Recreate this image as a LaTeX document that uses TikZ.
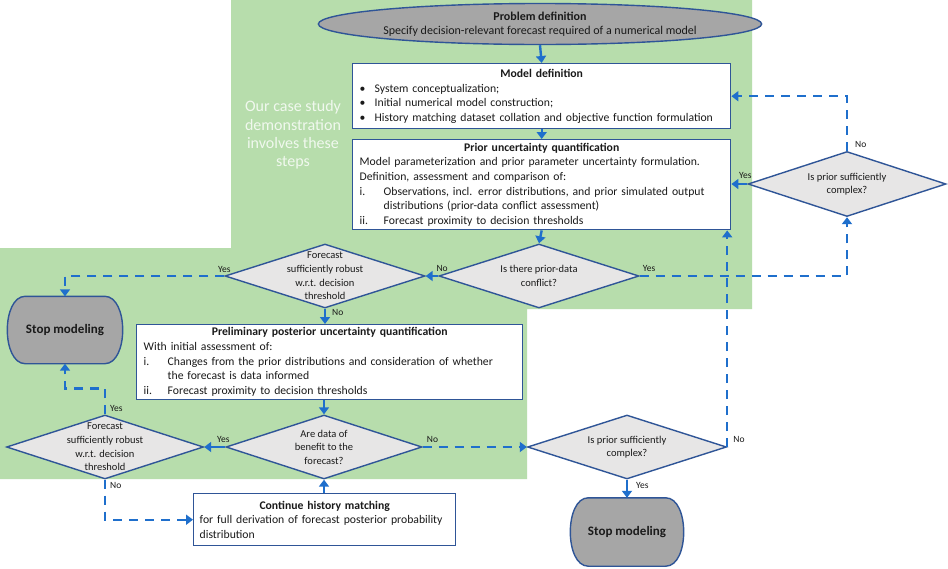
\documentclass[tikz,border=0pt]{standalone}
\usepackage{fontspec}
\setmainfont{Carlito}
\usetikzlibrary{shapes.geometric,arrows.meta}
\definecolor{bgreen}{HTML}{B7DDAC}
\definecolor{bord}{HTML}{2F5597}
\definecolor{arr}{HTML}{1F6FCC}
\definecolor{gfill}{HTML}{A6A6A6}
\definecolor{dfill}{HTML}{E7E6E6}
\definecolor{txt}{HTML}{1A1A1A}
\begin{document}
\begin{tikzpicture}[x=1pt,y=-1pt,
  box/.style={draw=bord,line width=1.4pt,fill=white,align=left,anchor=north west,inner xsep=7pt,inner ysep=3pt,text=txt,font=\fontsize{11.7}{14.6}\selectfont},
  dia/.style={diamond,draw=bord,line width=1.4pt,fill=dfill,inner sep=0pt},
  dtext/.style={align=center,inner sep=0pt,text=txt,font=\fontsize{10.5}{13.6}\selectfont},
  stopframe/.style={rectangle,inner sep=0pt,minimum width=115pt,minimum height=67pt},
  stopline/.style={draw=bord,line width=1.4pt,fill=gfill},
  stoptext/.style={inner sep=0pt,text=txt,font=\fontsize{13}{15}\selectfont\bfseries},
  lbl/.style={font=\fontsize{9.5}{11}\selectfont,inner sep=1pt,text=txt},
  sarr/.style={draw=arr,line width=2.4pt,-{Triangle[width=10pt,length=7pt]}},
  darr/.style={sarr,dash pattern=on 9pt off 7pt},
]
\useasboundingbox (0,0) rectangle (948,568);
\fill[white] (0,0) rectangle (948,568);
\fill[bgreen] (231,0) -- (752,0) -- (752,309) -- (527,309) -- (527,479) -- (0,479) -- (0,248) -- (231,248) -- cycle;

\node[white,opacity=0.8,align=center,font=\fontsize{16}{18.2}\selectfont] (side) at (293,135) {Our case study\\demonstration\\involves these\\steps};

% Problem definition
\node[ellipse,draw=bord,line width=1.4pt,fill=gfill,minimum width=376pt,minimum height=41pt,inner sep=0pt,align=center,text=txt,font=\fontsize{12}{13.5}\selectfont] (pd) at (540,24)
  {\textbf{Problem definition}\\Specify decision-relevant forecast required of a numerical model};

% Model definition
\node[box,text width=364pt,minimum height=65pt] (md) at (352,63) {%
{\centering\bfseries Model definition\par}
\makebox[15pt][l]{\textbullet}System conceptualization;\par
\makebox[15pt][l]{\textbullet}Initial numerical model construction;\par
\makebox[15pt][l]{\textbullet}History matching dataset collation and objective function formulation\par};

% Prior uncertainty quantification
\node[box,text width=364pt,minimum height=90pt] (prior) at (352,139) {%
{\centering\bfseries Prior uncertainty quantification\par}
Model parameterization and prior parameter uncertainty formulation.\par
Definition, assessment and comparison of:\par
\hangindent=24pt\hangafter=1\makebox[24pt][l]{i.}Observations, incl. error distributions, and prior simulated output\newline distributions (prior-data conflict assessment)\par
\hangindent=24pt\hangafter=1\makebox[24pt][l]{ii.}Forecast proximity to decision thresholds\par};

% Preliminary posterior
\node[box,text width=372pt,minimum height=74pt] (prelim) at (136,324) {%
{\centering\bfseries Preliminary posterior uncertainty quantification\par}
With initial assessment of:\par
\hangindent=24pt\hangafter=1\makebox[24pt][l]{i.}Changes from the prior distributions and consideration of whether\newline the forecast is data informed\par
\hangindent=24pt\hangafter=1\makebox[24pt][l]{ii.}Forecast proximity to decision thresholds\par};

% Continue history matching
\node[box,text width=250pt,minimum height=52pt,inner xsep=6pt] (cont) at (193,493) {%
{\centering\bfseries Continue history matching\par}
for full derivation of forecast posterior probability\newline distribution\par};

% Diamonds
\node[dia,minimum width=200pt,minimum height=64pt] (fc1) at (325,276) {};
\node[dtext] (fc1t) at (fc1.center) {Forecast\\sufficiently robust\\w.r.t. decision\\threshold};
\node[dia,minimum width=200pt,minimum height=64pt] (conf) at (539,276) {};
\node[dtext] (conft) at (conf.center) {Is there prior-data\\conflict?};
\node[dia,minimum width=198pt,minimum height=65pt] (cx) at (847,184) {};
\node[dtext] (cxt) at (cx.center) {Is prior sufficiently\\complex?};
\node[dia,minimum width=196pt,minimum height=64pt] (db) at (324,447) {};
\node[dtext] (dbt) at (db.center) {Are data of\\benefit to the\\forecast?};
\node[dia,minimum width=197pt,minimum height=64pt] (fc2) at (105,447) {};
\node[dtext] (fc2t) at (fc2.center) {Forecast\\sufficiently robust\\w.r.t. decision\\threshold};
\node[dia,minimum width=199pt,minimum height=64pt] (cx2) at (627,447) {};
\node[dtext] (cx2t) at (cx2.center) {Is prior sufficiently\\complex?};

% Stop nodes (frame, outline, text)
\node[stopframe] (stop1) at (65,330) {};
\filldraw[stopline] ([xshift=18pt]stop1.north west) -- ([xshift=-18pt]stop1.north east)
  .. controls ([xshift=6pt]stop1.north east) and ([xshift=6pt]stop1.south east) .. ([xshift=-18pt]stop1.south east)
  -- ([xshift=18pt]stop1.south west)
  .. controls ([xshift=-6pt]stop1.south west) and ([xshift=-6pt]stop1.north west) .. cycle;
\node[stoptext] (stop1t) at (stop1.center) {Stop modeling};
\node[stopframe,minimum width=113pt,minimum height=68pt] (stop2) at (627,532) {};
\filldraw[stopline] ([xshift=18pt]stop2.north west) -- ([xshift=-18pt]stop2.north east)
  .. controls ([xshift=6pt]stop2.north east) and ([xshift=6pt]stop2.south east) .. ([xshift=-18pt]stop2.south east)
  -- ([xshift=18pt]stop2.south west)
  .. controls ([xshift=-6pt]stop2.south west) and ([xshift=-6pt]stop2.north west) .. cycle;
\node[stoptext] (stop2t) at (stop2.center) {Stop modeling};

% Solid connectors
\draw[sarr] (pd.south) -- (md.north);
\draw[sarr] (md.south) -- (prior.north);
\draw[sarr] (prior.south) -- (conf.north);
\draw[sarr] (conf.west) -- (fc1.east);
\draw[sarr] (cx.west) -- (cx.west -| prior.east);
\draw[sarr] (fc1.south) -- (fc1.south |- prelim.north);
\draw[sarr] (db.north |- prelim.south) -- (db.north);
\draw[sarr] (db.west) -- (fc2.east);
\draw[sarr] (db.south |- cont.north) -- (db.south);
\draw[sarr] (cx2.south) -- (stop2.north);

% Dashed connectors
\draw[darr] (conf.east) -| (cx.south);
\draw[darr] (cx.north) |- (md.east);
\draw[darr] (fc1.west) -| (stop1.north);
\draw[darr] (db.east) -- (cx2.west);
\draw[darr] (cx2.east) -- (cx2.east |- prior.south);
\draw[darr] (fc2.north) -- ++(0,-26) coordinate (c1) -| (stop1.south);
\draw[darr] (fc2.south) |- (cont.west);

% Labels
\node[lbl,anchor=south] (l1) at ([yshift=2pt]fc1.west) {Yes};
\node[lbl,anchor=south west] (l2) at ([xshift=-3pt,yshift=3pt]conf.west) {No};
\node[lbl,anchor=south west] (l3) at ([xshift=2pt,yshift=3pt]conf.east) {Yes};
\node[lbl,anchor=south] (l4) at ([xshift=-2pt,yshift=4pt]cx.west) {Yes};
\node[lbl,anchor=south west] (l5) at ([xshift=7pt,yshift=2pt]cx.north) {No};
\node[lbl,anchor=north west] (l6) at ([xshift=6pt,yshift=1pt]fc1.south) {No};
\node[lbl,anchor=south] (l7) at ([xshift=-2pt,yshift=3pt]db.west) {Yes};
\node[lbl,anchor=south west] (l8) at ([xshift=3pt,yshift=3pt]db.east) {No};
\node[lbl,anchor=south west] (l9) at ([xshift=4pt,yshift=2pt]fc2.north) {Yes};
\node[lbl,anchor=north west] (l10) at ([xshift=4pt,yshift=-1pt]fc2.south) {No};
\node[lbl,anchor=south west] (l11) at ([xshift=5pt,yshift=3pt]cx2.east) {No};
\node[lbl,anchor=north west] (l12) at ([xshift=8pt,yshift=-1pt]cx2.south) {Yes};
\end{tikzpicture}
\end{document}
